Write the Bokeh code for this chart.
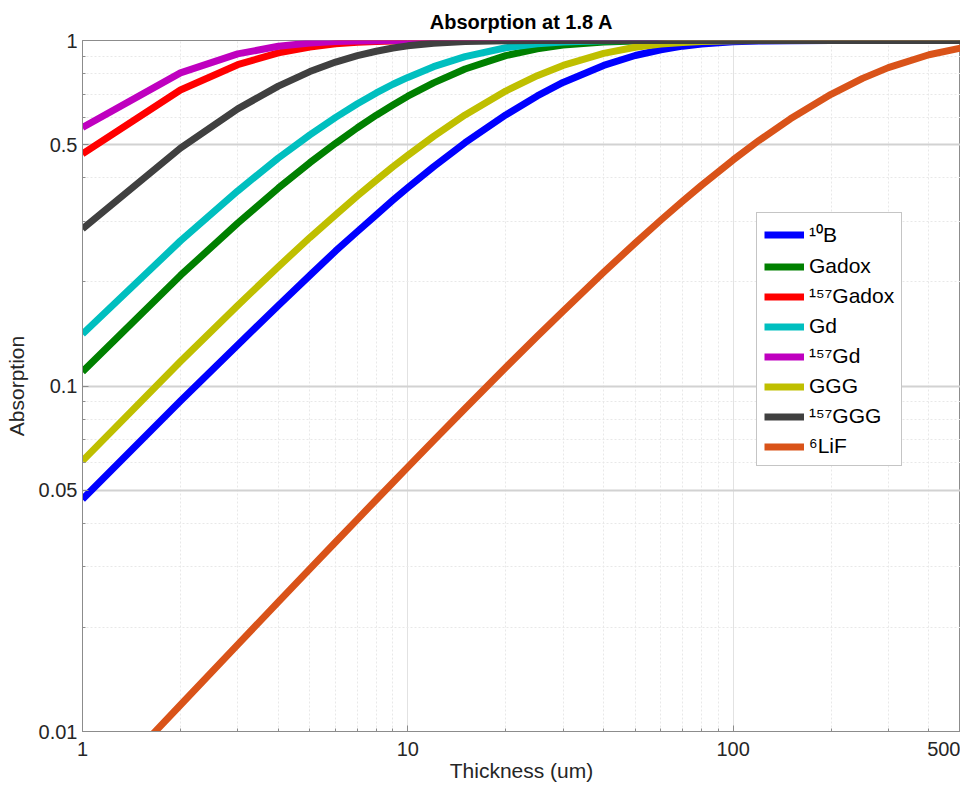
from bokeh.plotting import figure
from bokeh.models import FixedTicker, CustomJSTickFormatter, Legend, LegendItem, Range1d
from bokeh.embed import file_html
from bokeh.resources import INLINE

# Thickness (um)
thickness = [1, 2, 3, 4, 5, 6, 7, 8, 9, 10, 12, 15, 20, 25, 30, 40, 50, 60, 70, 80,
             100, 120, 150, 200, 250, 300, 400, 500]

b10 = [0.0470, 0.0905, 0.1315, 0.171, 0.209, 0.246, 0.280, 0.313, 0.345, 0.375,
       0.431, 0.506, 0.609, 0.691, 0.756, 0.847, 0.905, 0.940, 0.963, 0.977,
       0.991, 0.9964, 0.9991, 0.9999, 1.0, 1.0, 1.0, 1.0]
gadox = [0.110, 0.209, 0.296, 0.374, 0.443, 0.504, 0.559, 0.608, 0.651, 0.690,
         0.754, 0.827, 0.904, 0.946, 0.970, 0.9907, 0.9971, 0.9991, 0.9997, 0.9999,
         1.0, 1.0, 1.0, 1.0, 1.0, 1.0, 1.0, 1.0]
gadox157 = [0.470, 0.719, 0.851, 0.921, 0.958, 0.978, 0.988, 0.9938, 0.9967, 0.9983,
            0.9995, 0.99993, 1.0, 1.0, 1.0, 1.0, 1.0, 1.0, 1.0, 1.0,
            1.0, 1.0, 1.0, 1.0, 1.0, 1.0, 1.0, 1.0]
gd = [0.1414, 0.263, 0.367, 0.457, 0.533, 0.599, 0.656, 0.705, 0.747, 0.782,
      0.840, 0.898, 0.953, 0.978, 0.990, 0.9978, 0.9995, 0.9999, 1.0, 1.0,
      1.0, 1.0, 1.0, 1.0, 1.0, 1.0, 1.0, 1.0]
gd157 = [0.560, 0.806, 0.915, 0.962, 0.983, 0.993, 0.997, 0.9986, 0.9994, 0.9997,
         0.99995, 1.0, 1.0, 1.0, 1.0, 1.0, 1.0, 1.0, 1.0, 1.0,
         1.0, 1.0, 1.0, 1.0, 1.0, 1.0, 1.0, 1.0]
ggg = [0.0607, 0.1177, 0.171, 0.2215, 0.269, 0.313, 0.355, 0.394, 0.431, 0.465,
       0.528, 0.609, 0.714, 0.791, 0.847, 0.918, 0.956, 0.977, 0.9875, 0.9933,
       0.9981, 0.9995, 0.99992, 1.0, 1.0, 1.0, 1.0, 1.0]
ggg157 = [0.285, 0.488, 0.634, 0.738, 0.813, 0.866, 0.904, 0.931, 0.951, 0.965,
          0.982, 0.9934, 0.9988, 0.9998, 0.99996, 1.0, 1.0, 1.0, 1.0, 1.0,
          1.0, 1.0, 1.0, 1.0, 1.0, 1.0, 1.0, 1.0]
lif6 = [0.0060, 0.01193, 0.01784, 0.02371, 0.02955, 0.03536, 0.04113, 0.04687, 0.05257, 0.05824,
        0.0695, 0.0861, 0.1131, 0.1393, 0.1647, 0.2134, 0.2592, 0.3023, 0.3430, 0.3812,
        0.4512, 0.5133, 0.5934, 0.6988, 0.7769, 0.8347, 0.9093, 0.9502]

series_labels = ["\u00b9\u2070B", "Gadox", "\u00b9\u2075\u2077Gadox", "Gd", "\u00b9\u2075\u2077Gd",
                 "GGG", "\u00b9\u2075\u2077GGG", "\u2076LiF"]
series_values = [b10, gadox, gadox157, gd, gd157, ggg, ggg157, lif6]
series_colors = ["#0000ff", "#008000", "#ff0000", "#00bfbf", "#bf00bf", "#bfbf00", "#404040", "#d95319"]

x_major = [1, 10, 100, 500]
x_minor = [2, 3, 4, 5, 6, 7, 8, 9, 20, 30, 40, 50, 60, 70, 80, 90, 200, 300, 400]
y_major = [0.01, 0.05, 0.1, 0.5, 1]
y_minor = [0.02, 0.03, 0.04, 0.06, 0.07, 0.08, 0.09, 0.2, 0.3, 0.4, 0.6, 0.7, 0.8, 0.9]

FONT = "Liberation Sans"

p = figure(width=960, height=785, x_axis_type="log", y_axis_type="log",
           x_range=Range1d(1, 500), y_range=Range1d(0.01, 1),
           output_backend="svg", toolbar_location=None,
           min_border_left=82, min_border_right=0, min_border_top=40, min_border_bottom=54,
           title="Absorption at 1.8 A")

p.title.align = "center"
p.title.text_font = FONT
p.title.text_font_size = "20px"
p.title.text_font_style = "bold"
p.title.text_color = "#000000"
p.title.standoff = 15

p.outline_line_color = "#8c8c8c"
p.background_fill_color = "white"
p.border_fill_color = "white"

tf = CustomJSTickFormatter(code="return tick.toString();")
p.xaxis[0].ticker = FixedTicker(ticks=x_major, minor_ticks=x_minor)
p.yaxis[0].ticker = FixedTicker(ticks=y_major, minor_ticks=y_minor)
for ax in (p.xaxis[0], p.yaxis[0]):
    ax.formatter = tf
    ax.axis_line_color = "#8c8c8c"
    ax.major_tick_line_color = "#8c8c8c"
    ax.minor_tick_line_color = "#8c8c8c"
    ax.major_tick_in = 6
    ax.major_tick_out = 0
    ax.minor_tick_in = 3
    ax.minor_tick_out = 0
    ax.major_label_text_font = FONT
    ax.major_label_text_font_size = "20px"
    ax.major_label_text_color = "#262626"
    ax.axis_label_text_font = FONT
    ax.axis_label_text_font_size = "21px"
    ax.axis_label_text_font_style = "normal"
    ax.axis_label_text_color = "#262626"

p.xaxis.major_label_standoff = 10
p.yaxis.major_label_standoff = 5
p.xaxis.axis_label = "Thickness (um)"
p.xaxis.axis_label_standoff = 0
p.yaxis.axis_label = "Absorption"
p.yaxis.axis_label_standoff = 8

p.ygrid[0].grid_line_color = "#d2d2d2"
p.ygrid[0].grid_line_width = 2
p.xgrid[0].grid_line_color = "#e2e2e2"
p.xgrid[0].grid_line_width = 1
for g in (p.xgrid[0], p.ygrid[0]):
    g.minor_grid_line_color = "#e8e8e8"
    g.minor_grid_line_dash = "2 2"
    g.minor_grid_line_width = 1

items = []
for lab, vals, col in zip(series_labels, series_values, series_colors):
    r = p.line(thickness, vals, line_color=col, line_width=7, line_join="round")
    items.append(LegendItem(label=lab, renderers=[r]))

legend = Legend(items=items, location=(674, 265))
legend.border_line_color = "#8c8c8c"
legend.border_line_width = 1
legend.background_fill_color = "white"
legend.background_fill_alpha = 1.0
legend.padding = 7
legend.spacing = 6
legend.margin = 0
legend.glyph_width = 40
legend.glyph_height = 23
legend.label_height = 23
legend.label_standoff = 5
legend.label_text_font = FONT
legend.label_text_font_size = "21px"
legend.label_text_color = "#000000"
p.add_layout(legend)

open("out.html", "w").write(file_html(p, INLINE))
